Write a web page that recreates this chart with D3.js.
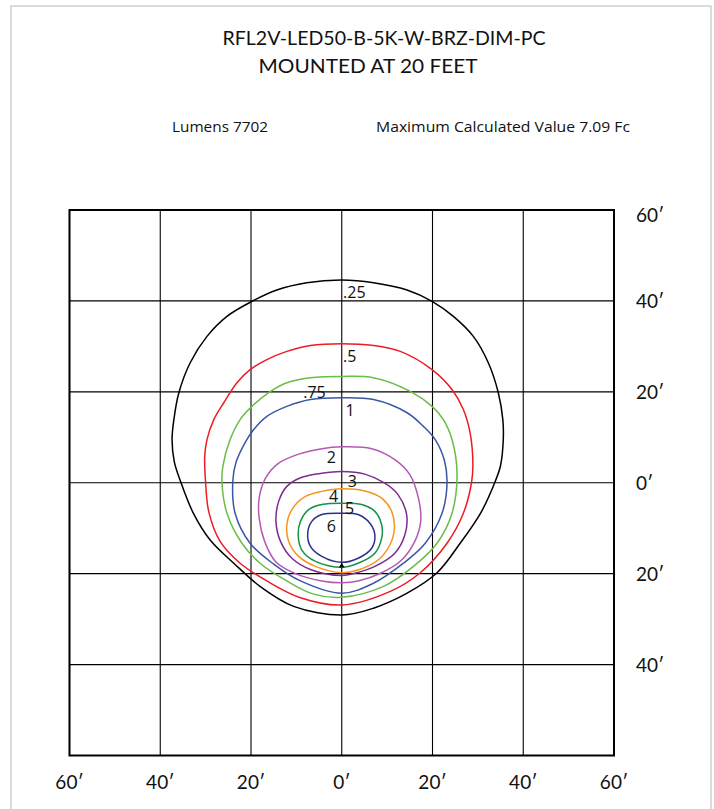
<!DOCTYPE html>
<html>
<head>
<meta charset="utf-8">
<script src="https://cdn.jsdelivr.net/npm/d3@7/dist/d3.min.js"></script>
<style>
  html, body { margin: 0; padding: 0; background: #fff; }
  svg { display: block; }
  text { font-family: Lato, "Noto Sans", sans-serif; fill: #111; }
  text.small { font-family: "Open Sans", "Noto Sans", sans-serif; }
</style>
</head>
<body>
<script>
// ---------- data (feet; x: left/right of pole, y: front (+) / back (-)) ----------
const titleLines = ["RFL2V-LED50-B-5K-W-BRZ-DIM-PC", "MOUNTED AT 20 FEET"];
const lumensText = "Lumens 7702";
const maxText = "Maximum Calculated Value 7.09 Fc";

const gridTicks = [-60, -40, -20, 0, 20, 40, 60];
const bottomTickLabels = ["60′", "40′", "20′", "0′", "20′", "40′", "60′"];
const rightTicks = [60, 40, 20, 0, -20, -40];
const rightTickLabels = ["60′", "40′", "20′", "0′", "20′", "40′"];

const levels = [".25", ".5", ".75", "1", "2", "3", "4", "5", "6"];
const levelColors = ["#000000", "#ed1c24", "#6abd45", "#3a56a5", "#b459b3", "#7c2d8e", "#f7941d", "#15924a", "#2b3190"];

const contour025 = [[0,44.6],[7,44],[14.4,42.4],[19.9,39.9],[24.6,36.6],[29,32.2],[32.3,26.4],[34.5,19.8],[35.5,13.9],[35.6,9.5],[35,3.8],[33.9,0.5],[30.7,-6.5],[26.1,-13.3],[21,-19.8],[14.4,-24.3],[7,-27.6],[0,-29.1],[-10.6,-27.2],[-18,-22.8],[-23.8,-17.7],[-29,-12.6],[-32.8,-6.5],[-35.6,0.5],[-36.9,4.6],[-37.4,9.5],[-37,13.9],[-35.9,19.8],[-33.4,26.4],[-29.7,32.2],[-25.3,36.6],[-19.8,39.9],[-14.3,42.4],[-7.7,44]];
const contour05 = [[0,30.6],[7,30.2],[12.9,28.9],[19.9,24.9],[24.3,20.5],[26.8,16.1],[28.3,10.9],[28.9,4],[28.6,0],[26.8,-6.7],[23.2,-13.3],[17.3,-19.8],[10.7,-23.9],[0,-26.9],[-9.1,-25.3],[-16.5,-21.6],[-22.4,-17.7],[-26.8,-12.9],[-29.3,-6.4],[-30,0],[-30.2,5.8],[-29.7,9.5],[-28.2,13.9],[-26,17.6],[-23.1,22],[-20.2,24.9],[-16.5,27.1],[-12.1,28.9],[-6.9,30.2]];
const contour075 = [[0,23.4],[7,23.1],[15.1,20.1],[19.9,16.8],[22.4,13.9],[24.3,9.5],[25.4,2.1],[24.3,-6.7],[21,-13.3],[15.8,-18.4],[9.2,-22.8],[0,-25.2],[-6.2,-24.5],[-12.1,-21.6],[-18,-17.7],[-22,-13.3],[-25.3,-6.7],[-26.4,0],[-26.2,3.6],[-24.6,9.5],[-22.4,13.9],[-19.8,16.8],[-15.7,20.1],[-12.1,22],[-6.9,23.1]];
const contour1 = [[0,18.7],[7,18.3],[14.4,15.4],[18,12.4],[20.6,9.5],[22.6,5],[23.2,0],[22.1,-6.7],[18.4,-13.3],[13.6,-17.7],[7,-22.1],[0,-24.3],[-9.1,-21.6],[-15,-17.9],[-20.2,-13.3],[-23.5,-6.7],[-24,0.5],[-23.3,4.5],[-21.2,9],[-19.4,11.7],[-16.5,14.6],[-12.1,16.8],[-6.9,18.3]];
const contour2 = [[0,7.9],[6.6,7.5],[11.7,5.1],[15,1.8],[16.9,-3.4],[17.4,-8.5],[16.1,-12.9],[13.2,-17],[8.8,-19.8],[3.6,-21.6],[0,-22],[-4.4,-21.6],[-10.2,-20],[-14.6,-17.3],[-17,-12.9],[-18.2,-7.8],[-18.2,-3.4],[-16.8,1],[-13.9,4.3],[-9.5,6.3],[-4.4,7.5]];
const contour3 = [[0,2.5],[5.1,1.9],[9.5,-0.1],[12.4,-2.6],[14.3,-7],[13.9,-11.5],[11.7,-15.5],[7.3,-18.4],[2.9,-19.9],[0,-20.4],[-6.6,-19.2],[-11,-16.6],[-13.5,-12.9],[-14.5,-8.5],[-13.9,-4.1],[-12.1,-0.8],[-8.8,1.2],[-4.4,2.1]];
const contour4 = [[0,-1.3],[5.1,-1.8],[8.8,-3.4],[11,-6.3],[11.6,-10],[10.6,-13.7],[8,-17],[3.6,-19.2],[0,-19.8],[-5.8,-18.4],[-9.5,-16.2],[-11.7,-12.9],[-12.1,-9.3],[-11,-5.9],[-8,-3],[-4.4,-1.9]];
const contour5 = [[0,-4.5],[4.4,-4.8],[7.3,-6.3],[8.8,-9.3],[8.8,-12.2],[7.3,-15.5],[3.6,-17.7],[0,-18.6],[-5.8,-17.3],[-8.8,-14.8],[-9.6,-11.5],[-9.1,-8.5],[-7.3,-5.9],[-4.4,-4.8]];
const contour6 = [[0,-6.7],[3.6,-7],[6.2,-8.9],[7.3,-11.5],[6.6,-14.4],[3.6,-16.6],[0,-17.5],[-4.4,-16.2],[-6.9,-14],[-7.5,-11.1],[-6.6,-8.5],[-4.4,-7]];
const contours = [contour025, contour05, contour075, contour1, contour2, contour3, contour4, contour5, contour6];

// label anchor points (feet) for each level
const labelX = [0.3, 0.3, -8.5, 0.8, -3.3, 1.3, -2.8, 0.7, -3.3];
const labelY = [41.9, 27.8, 19.9, 16.1, 5.6, 0.4, -3.0, -5.5, -9.6];

const pole = [0, -18.3];

// ---------- drawing ----------
const W = 714, H = 809;
const svg = d3.select("body").append("svg").attr("width", W).attr("height", H);

svg.append("rect").attr("x", 0).attr("y", 0).attr("width", W).attr("height", H).attr("fill", "#fff");
// page frame
svg.append("rect").attr("x", 11).attr("y", 6).attr("width", 700).attr("height", 820)
  .attr("fill", "none").attr("stroke", "#c4c4c4").attr("stroke-width", 1.2);

const x = d3.scaleLinear().domain([-60, 60]).range([69.5, 614]);
const y = d3.scaleLinear().domain([-60, 60]).range([755.5, 210]);

// titles
svg.selectAll("text.title").data(titleLines).join("text").attr("class", "title")
  .attr("x", (d, i) => i === 0 ? 384 : 368).attr("y", (d, i) => 45 + i * 28)
  .attr("text-anchor", "middle").attr("font-size", 20)
  .attr("textLength", (d, i) => i === 0 ? 323 : 219).attr("lengthAdjust", "spacingAndGlyphs")
  .text(d => d);

svg.append("text").attr("class", "small").attr("x", 172).attr("y", 132).attr("font-size", 15)
  .attr("textLength", 96).attr("lengthAdjust", "spacingAndGlyphs").text(lumensText);
svg.append("text").attr("class", "small").attr("x", 376).attr("y", 132).attr("font-size", 15)
  .attr("textLength", 254).attr("lengthAdjust", "spacingAndGlyphs").text(maxText);

// grid
const g = svg.append("g");
g.selectAll("line.v").data(gridTicks).join("line").attr("class", "v")
  .attr("x1", d => x(d)).attr("x2", d => x(d)).attr("y1", y(60)).attr("y2", y(-60))
  .attr("stroke", "#000").attr("stroke-width", 1.1);
g.selectAll("line.h").data(gridTicks).join("line").attr("class", "h")
  .attr("y1", d => y(d)).attr("y2", d => y(d)).attr("x1", x(-60)).attr("x2", x(60))
  .attr("stroke", "#000").attr("stroke-width", 1.1);
g.append("rect").attr("x", x(-60)).attr("y", y(60)).attr("width", x(60) - x(-60)).attr("height", y(-60) - y(60))
  .attr("fill", "none").attr("stroke", "#000").attr("stroke-width", 2);

// axis labels
svg.selectAll("text.bt").data(gridTicks).join("text").attr("class", "bt")
  .attr("x", d => x(d)).attr("y", 789).attr("text-anchor", "middle").attr("font-size", 19)
  .text((d, i) => bottomTickLabels[i]);
svg.selectAll("text.rt").data(rightTicks).join("text").attr("class", "rt")
  .attr("x", 636).attr("y", d => Math.max(y(d), 215) + 7).attr("font-size", 19)
  .text((d, i) => rightTickLabels[i]);

// contours
const line = d3.line().x(d => x(d[0])).y(d => y(d[1])).curve(d3.curveCatmullRomClosed.alpha(0.5));
svg.append("g").selectAll("path").data(contours).join("path")
  .attr("d", d => line(d)).attr("fill", "none")
  .attr("stroke", (d, i) => levelColors[i]).attr("stroke-width", 1.5);

// contour labels
svg.append("g").selectAll("text").data(levels).join("text").attr("class", "small")
  .attr("x", (d, i) => x(labelX[i])).attr("y", (d, i) => y(labelY[i]) + 6)
  .attr("font-size", 16).text(d => d);

// luminaire marker
svg.append("path").attr("d", d3.symbol(d3.symbolTriangle, 14)())
  .attr("transform", `translate(${x(pole[0])},${y(pole[1])})`).attr("fill", "#000");
</script>
</body>
</html>
